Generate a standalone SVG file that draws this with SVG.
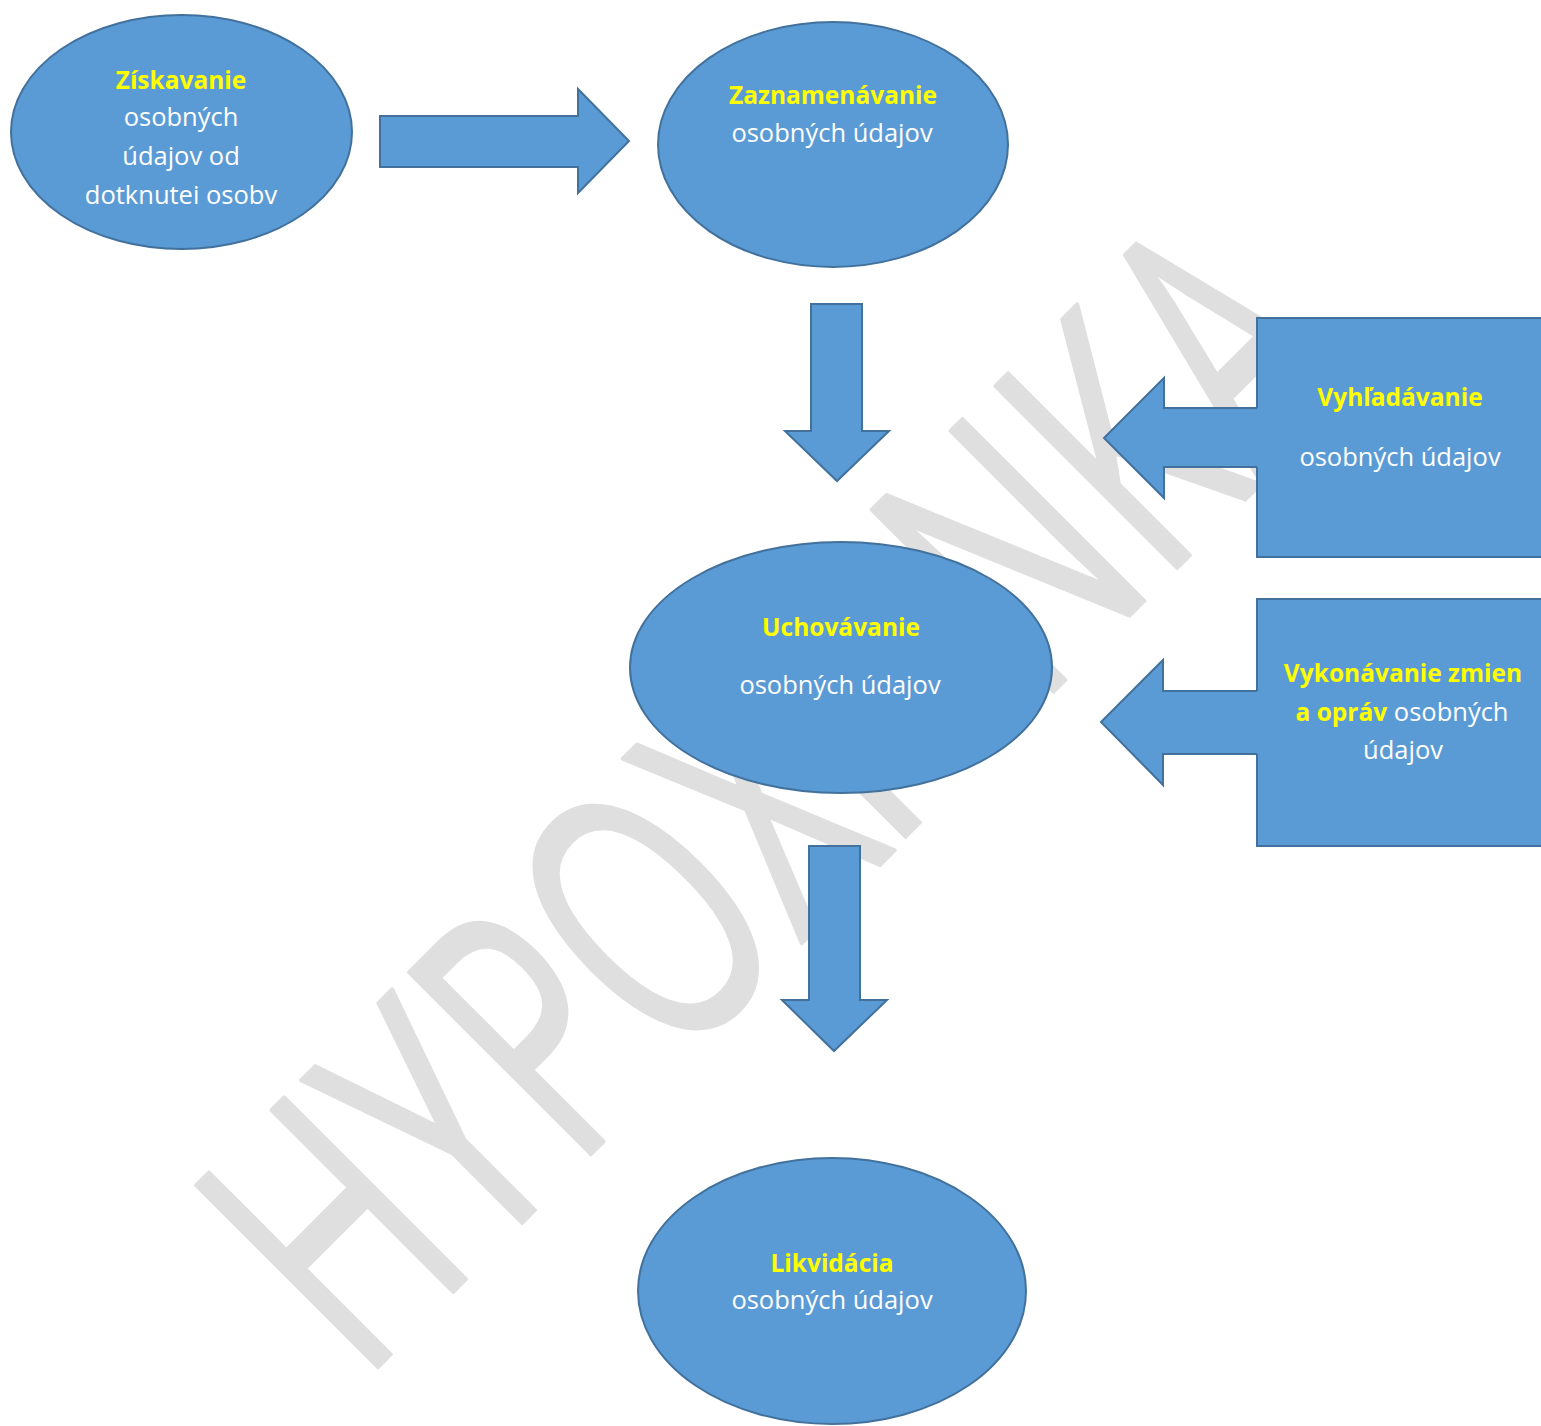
<svg xmlns="http://www.w3.org/2000/svg" width="1541" height="1426" viewBox="0 0 1541 1426">
<style>
.shape{fill:#5B9BD5;stroke:#41719C;stroke-width:2}
.afill{fill:#5B9BD5;stroke:none}
.aline{fill:none;stroke:#41719C;stroke-width:2;stroke-linejoin:miter}
.t{font-family:"Open Sans","Liberation Sans",sans-serif;font-size:25.5px;fill:#FFFFFF;text-anchor:middle}
.b{font-weight:bold;fill:#FFFF00;font-size:24.5px}
.wm{font-family:"Open Sans","Liberation Sans",sans-serif;font-size:360px;fill:#DFDFDF;stroke:#DFDFDF;stroke-width:4;stroke-linejoin:round}
</style>
<rect x="0" y="0" width="1541" height="1426" fill="#FFFFFF"/>
<g id="watermark">
<text class="wm" transform="translate(361.5,1383.5) rotate(-45) scale(0.645,1)">HYPOX</text>
<text class="wm" transform="translate(1037,708) rotate(-45) scale(0.645,1)">NKA</text>
<line x1="914" y1="831" x2="850" y2="767" stroke="#DFDFDF" stroke-width="24"/>
</g>
<g id="nodes">
<g id="ziskavanie">
<ellipse class="shape" cx="181.5" cy="132" rx="170.5" ry="117"/>
<text class="t b" x="181" y="89">Získavanie</text>
<text class="t" x="181" y="126">osobných</text>
<text class="t" x="181" y="165">údajov od</text>
<text class="t" x="181" y="204">dotknutei osobv</text>
</g>
<g id="zaznamenavanie">
<ellipse class="shape" cx="833" cy="144.5" rx="175" ry="122.5"/>
<text class="t b" x="833" y="104">Zaznamenávanie</text>
<text class="t" x="832" y="142">osobných údajov</text>
</g>
<g id="vyhladavanie">
<rect class="shape" x="1257" y="318" width="290" height="239"/>
<text class="t b" x="1400" y="406">Vyhľadávanie</text>
<text class="t" x="1400" y="466">osobných údajov</text>
</g>
<g id="uchovavanie">
<ellipse class="shape" cx="841" cy="667.5" rx="211" ry="125.5"/>
<text class="t b" x="841" y="636">Uchovávanie</text>
<text class="t" x="840" y="694">osobných údajov</text>
</g>
<g id="vykonavanie">
<rect class="shape" x="1257" y="599" width="290" height="247"/>
<text class="t b" x="1403" y="682">Vykonávanie zmien</text>
<text class="t" x="1402" y="721"><tspan class="b">a opráv</tspan> osobných</text>
<text class="t" x="1403" y="759">údajov</text>
</g>
<g id="likvidacia">
<ellipse class="shape" cx="832" cy="1291" rx="194" ry="133"/>
<text class="t b" x="832" y="1272">Likvidácia</text>
<text class="t" x="832" y="1309">osobných údajov</text>
</g>
</g>
<g id="connectors">
<path class="shape" d="M380,116 L578,116 L578,89 L629,141 L578,193 L578,167 L380,167 Z"/>
<path class="shape" d="M811,304 L862,304 L862,431 L889,431 L837,481 L785,431 L811,431 Z"/>
<path class="shape" d="M809,846 L860,846 L860,1000 L887,1000 L834,1051 L782,1000 L809,1000 Z"/>
<path class="afill" d="M1259,408 L1164,408 L1164,378 L1104,438 L1164,498 L1164,467 L1259,467 Z"/>
<path class="aline" d="M1257,408 L1164,408 L1164,378 L1104,438 L1164,498 L1164,467 L1257,467"/>
<path class="afill" d="M1259,691 L1163,691 L1163,660 L1101,722 L1163,785 L1163,754 L1259,754 Z"/>
<path class="aline" d="M1257,691 L1163,691 L1163,660 L1101,722 L1163,785 L1163,754 L1257,754"/>
</g>
</svg>
